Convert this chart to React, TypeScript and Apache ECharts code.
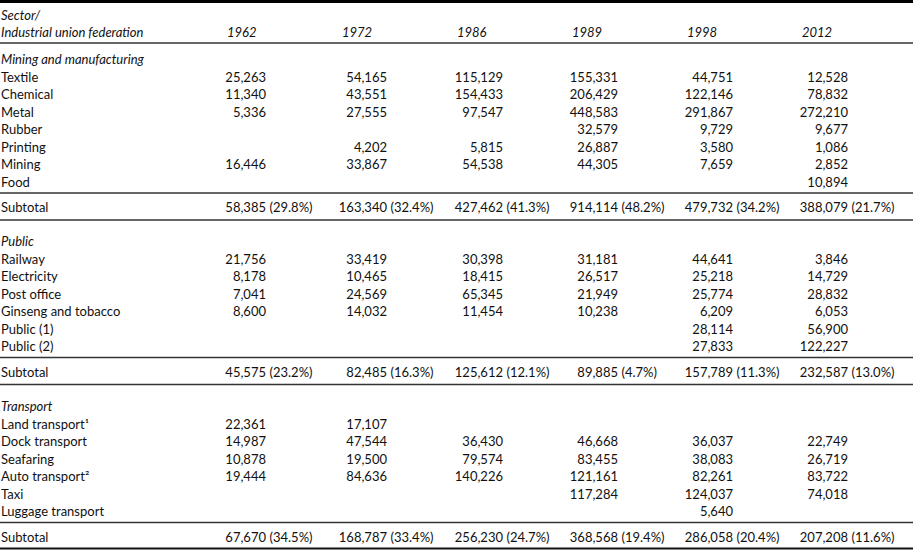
import React, { useEffect, useRef } from "react";
import * as echarts from "echarts";

// ---------- data ----------
const years = ["1962", "1972", "1986", "1989", "1998", "2012"];
const headerTop = "Sector/";
const headerBottom = "Industrial union federation";

const sectionTitles = ["Mining and manufacturing", "Public", "Transport"];

const miningRows = ["Textile", "Chemical", "Metal", "Rubber", "Printing", "Mining", "Food"];
const miningValues: (number | null)[][] = [
  [25263, 54165, 115129, 155331, 44751, 12528],
  [11340, 43551, 154433, 206429, 122146, 78832],
  [5336, 27555, 97547, 448583, 291867, 272210],
  [null, null, null, 32579, 9729, 9677],
  [null, 4202, 5815, 26887, 3580, 1086],
  [16446, 33867, 54538, 44305, 7659, 2852],
  [null, null, null, null, null, 10894],
];
const miningSubtotal = [58385, 163340, 427462, 914114, 479732, 388079];
const miningShare = [29.8, 32.4, 41.3, 48.2, 34.2, 21.7];

const publicRows = ["Railway", "Electricity", "Post office", "Ginseng and tobacco", "Public (1)", "Public (2)"];
const publicValues: (number | null)[][] = [
  [21756, 33419, 30398, 31181, 44641, 3846],
  [8178, 10465, 18415, 26517, 25218, 14729],
  [7041, 24569, 65345, 21949, 25774, 28832],
  [8600, 14032, 11454, 10238, 6209, 6053],
  [null, null, null, null, 28114, 56900],
  [null, null, null, null, 27833, 122227],
];
const publicSubtotal = [45575, 82485, 125612, 89885, 157789, 232587];
const publicShare = [23.2, 16.3, 12.1, 4.7, 11.3, 13.0];

const transportRows = ["Land transport\u00b9", "Dock transport", "Seafaring", "Auto transport\u00b2", "Taxi", "Luggage transport"];
const transportValues: (number | null)[][] = [
  [22361, 17107, null, null, null, null],
  [14987, 47544, 36430, 46668, 36037, 22749],
  [10878, 19500, 79574, 83455, 38083, 26719],
  [19444, 84636, 140226, 121161, 82261, 83722],
  [null, null, null, 117284, 124037, 74018],
  [null, null, null, null, 5640, null],
];
const transportSubtotal = [67670, 168787, 256230, 368568, 286058, 207208];
const transportShare = [34.5, 33.4, 24.7, 19.4, 20.4, 11.6];

// ---------- layout ----------
const W = 913;
const H = 550;
const FONT_FAMILY = "Lato";
const FONT_SIZE = 13;
const LABEL_X = 1;
const HEADER_LEFT = [227, 342, 457, 572, 687, 802];
const NUM_ANCHOR = [266, 387, 503, 618, 733, 848];
const PCT_GAP = 3.5;
const PITCH = 17.5;
const HEADER_Y = [15, 32];
const HEADER_RULE = 43;
const SECTION_TOP = [59, 241, 406];
const RULE_AFTER_ROWS = 11.5;
const SUBTOTAL_GAP = 14;
const RULE_AFTER_SUB = 13;

type Cell = { x: number; y: number; text: string; align: "left" | "right"; italic: boolean };
type Rule = { y: number; w: number; color: string };

const fmt = (v: number) => v.toLocaleString("en-US");

function buildTable() {
  const cells: Cell[] = [];
  const rules: Rule[] = [{ y: 1.5, w: 3, color: "#000" }];
  cells.push({ x: LABEL_X, y: HEADER_Y[0], text: headerTop, align: "left", italic: true });
  cells.push({ x: LABEL_X, y: HEADER_Y[1], text: headerBottom, align: "left", italic: true });
  years.forEach((yr, i) => cells.push({ x: HEADER_LEFT[i], y: HEADER_Y[1], text: yr, align: "left", italic: true }));
  rules.push({ y: HEADER_RULE, w: 1.5, color: "#333" });

  const sections = [
    { rows: miningRows, values: miningValues, sub: miningSubtotal, share: miningShare },
    { rows: publicRows, values: publicValues, sub: publicSubtotal, share: publicShare },
    { rows: transportRows, values: transportValues, sub: transportSubtotal, share: transportShare },
  ];
  sections.forEach((s, si) => {
    const top = SECTION_TOP[si];
    cells.push({ x: LABEL_X, y: top, text: sectionTitles[si], align: "left", italic: true });
    s.rows.forEach((name, ri) => {
      const y = top + (ri + 1) * PITCH;
      cells.push({ x: LABEL_X, y, text: name, align: "left", italic: false });
      s.values[ri].forEach((v, ci) => {
        if (v !== null) cells.push({ x: NUM_ANCHOR[ci], y, text: fmt(v), align: "right", italic: false });
      });
    });
    const lastY = top + s.rows.length * PITCH;
    const r1 = lastY + RULE_AFTER_ROWS;
    rules.push({ y: r1, w: 1.5, color: "#333" });
    const sy = r1 + SUBTOTAL_GAP;
    cells.push({ x: LABEL_X, y: sy, text: "Subtotal", align: "left", italic: false });
    s.sub.forEach((v, ci) => {
      cells.push({ x: NUM_ANCHOR[ci], y: sy, text: fmt(v), align: "right", italic: false });
      cells.push({ x: NUM_ANCHOR[ci] + PCT_GAP, y: sy, text: "(" + s.share[ci].toFixed(1) + "%)", align: "left", italic: false });
    });
    const r2 = sy + RULE_AFTER_SUB;
    rules.push({ y: si === 2 ? Math.min(r2, H - 1.5) : r2, w: si === 2 ? 2 : 1.5, color: si === 2 ? "#111" : "#333" });
  });
  return { cells, rules };
}

export default function App() {
  const ref = useRef<HTMLDivElement>(null);
  useEffect(() => {
    if (!ref.current) return;
    const chart = echarts.init(ref.current, undefined, { renderer: "svg" });
    const { cells, rules } = buildTable();
    chart.setOption({
      animation: false,
      backgroundColor: "#fff",
      grid: { left: 0, right: 0, top: 0, bottom: 0 },
      xAxis: { type: "value", min: 0, max: W, show: false },
      yAxis: { type: "value", min: 0, max: H, inverse: true, show: false },
      series: [
        {
          type: "custom",
          silent: true,
          data: rules.map((r) => [0, r.y]),
          renderItem: (params: any, api: any) => {
            const r = rules[params.dataIndex];
            const p1 = api.coord([0, r.y]);
            const p2 = api.coord([W, r.y]);
            return {
              type: "line",
              shape: { x1: p1[0], y1: p1[1], x2: p2[0], y2: p2[1] },
              style: { stroke: r.color, lineWidth: r.w },
            };
          },
        },
        {
          type: "custom",
          silent: true,
          data: cells.map((c) => [c.x, c.y]),
          renderItem: (params: any, api: any) => {
            const c = cells[params.dataIndex];
            const p = api.coord([c.x, c.y]);
            return {
              type: "text",
              x: p[0],
              y: p[1],
              style: {
                text: c.text,
                fill: "#111",
                font: `${c.italic ? "italic " : ""}${FONT_SIZE}px ${FONT_FAMILY}`,
                align: c.align,
                verticalAlign: "middle",
                textAlign: c.align,
                textVerticalAlign: "middle",
              },
            };
          },
        },
      ],
    });
    return () => chart.dispose();
  }, []);
  return (
    <div
      ref={ref}
      style={{ position: "fixed", left: 0, top: 0, width: W, height: H, background: "#fff" }}
    />
  );
}
